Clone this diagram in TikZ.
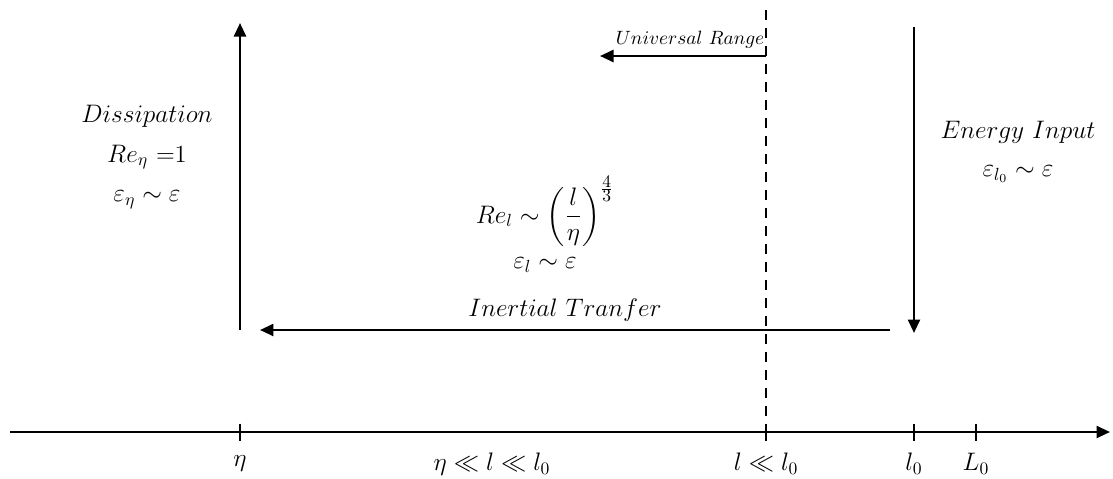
\documentclass[tikz,border=0pt]{standalone}
\usepackage{amsmath,amssymb}
\usetikzlibrary{arrows.meta}

\tikzset{
  flow/.style={line width=1.4pt, -{Triangle[length=2.7mm,width=2.4mm]}},
  lbl/.style={font=\fontsize{14}{16}\selectfont, inner sep=1pt},
}

\begin{document}
\begin{tikzpicture}[x=0.02cm, y=-0.02cm]
    \useasboundingbox (0,0) rectangle (1113,478);

    % scale axis
    \coordinate (axL) at (10,432);
    \coordinate (axR) at (1110,432);
    \draw[flow] (axL) -- (axR);
    \foreach \x/\n in {240/eta, 766/mid, 914/lz, 976/Lz} {
        \coordinate (t\n) at (\x,432);
        \draw[line width=1.4pt] ([yshift=0.17cm]t\n) -- ([yshift=-0.17cm]t\n);
    }
    \node[lbl] (xeta) at (240,464) {$\eta$};
    \node[lbl] (xrange) at (492,464) {$\eta \ll l \ll l_0$};
    \node[lbl] (xmid) at (766,464) {$l \ll l_0$};
    \node[lbl] (xlz) at (914,464) {$l_0$};
    \node[lbl] (xLz) at (976,464) {$L_0$};

    % limit of universal range
    \coordinate (dtop) at (766,10);
    \draw[line width=1.4pt, dash pattern=on 0.2cm off 0.16cm] (dtop) -- (tmid);
    \coordinate (uR) at (766,56);
    \coordinate (uL) at (600,56);
    \draw[flow] (uR) -- (uL);
    \node[font=\fontsize{11}{13}\selectfont, anchor=base] (urange) at (690,44) {$Universal\ Range$};

    % dissipation
    \coordinate (dbot) at (240,330);
    \coordinate (dupp) at (240,23);
    \draw[flow] (dbot) -- (dupp);
    \node[lbl] (diss) at (147,116) {$Dissipation$};
    \node[lbl] (reeta) at (147,157) {$Re_\eta$ =1};
    \node[lbl] (epseta) at (147,200) {$\varepsilon_\eta \sim \varepsilon$};

    % energy input
    \coordinate (etop) at (914,27);
    \coordinate (ebot) at (914,333);
    \draw[flow] (etop) -- (ebot);
    \node[lbl] (energy) at (1018,132) {$Energy\ Input$};
    \node[lbl] (epslz) at (1018,174) {$\varepsilon_{l_0} \sim \varepsilon$};

    % inertial range
    \coordinate (iR) at (890,330);
    \coordinate (iL) at (260,330);
    \draw[flow] (iR) -- (iL);
    \node[lbl] (rel) at (545,211) {$Re_l \sim \left(\dfrac{l}{\eta}\right)^{\frac{\scriptstyle 4}{\scriptstyle 3}}$};
    \node[lbl] (epsl) at (545,265) {$\varepsilon_l \sim \varepsilon$};
    \node[lbl] (inert) at (565,310) {$Inertial\ Tranfer$};
\end{tikzpicture}
\end{document}
